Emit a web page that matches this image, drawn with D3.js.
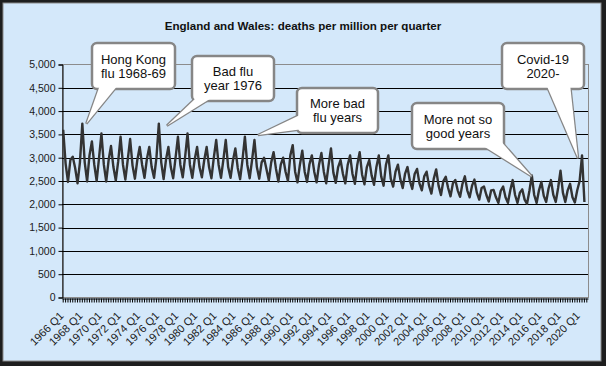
<!DOCTYPE html>
<html>
<head>
<meta charset="utf-8">
<title>England and Wales: deaths per million per quarter</title>
<script src="https://cdn.jsdelivr.net/npm/d3@7"></script>
<style>
	body { margin: 0; background: #fff; }
	svg { display: block; font-family: Arial, "Liberation Sans", sans-serif; }
</style>
</head>
<body>
<div id="chart"></div>
<script>
// categories: one per quarter, 1966 Q1 .. 2020 Q4 (last quarter has no value yet)
var firstYear = 1966, lastYear = 2020;
var quarterNames = ["Q1", "Q2", "Q3", "Q4"];

// deaths per million per quarter, one row per year (Q1..Q4)
var deaths = [
	[3600, 2880, 2480, 2950], // 1966
	[3020, 2780, 2450, 2900],
	[3730, 2900, 2490, 3050],
	[3350, 2850, 2500, 3000],
	[3520, 2850, 2490, 2950], // 1970
	[3250, 2800, 2510, 2920],
	[3450, 2850, 2530, 2960],
	[3400, 2830, 2550, 2950],
	[3230, 2850, 2570, 2970],
	[3230, 2800, 2570, 3000], // 1975
	[3730, 2900, 2540, 2960],
	[3230, 2800, 2560, 3000],
	[3450, 2850, 2580, 3020],
	[3520, 2850, 2570, 2960],
	[3230, 2800, 2580, 2950], // 1980
	[3230, 2800, 2560, 3000],
	[3380, 2850, 2570, 2960],
	[3380, 2800, 2570, 2940],
	[3200, 2780, 2540, 2960],
	[3450, 2850, 2560, 2950], // 1985
	[3380, 2800, 2550, 2900],
	[3000, 2760, 2510, 2900],
	[3120, 2760, 2490, 2850],
	[3000, 2700, 2500, 3050],
	[3270, 2700, 2470, 2850], // 1990
	[3150, 2700, 2480, 2860],
	[3050, 2700, 2470, 2850],
	[3100, 2700, 2450, 2840],
	[3200, 2680, 2460, 2800],
	[2950, 2650, 2450, 2850], // 1995
	[3050, 2650, 2440, 2850],
	[3120, 2640, 2430, 2800],
	[2950, 2620, 2420, 2800],
	[3050, 2600, 2400, 2850],
	[3050, 2550, 2380, 2700], // 2000
	[2850, 2540, 2350, 2660],
	[2800, 2500, 2330, 2650],
	[2760, 2450, 2300, 2600],
	[2700, 2400, 2230, 2550],
	[2750, 2400, 2200, 2500], // 2005
	[2590, 2350, 2170, 2450],
	[2520, 2300, 2160, 2440],
	[2600, 2300, 2150, 2400],
	[2530, 2250, 2100, 2350],
	[2380, 2200, 2060, 2300], // 2010
	[2310, 2150, 2030, 2290],
	[2380, 2150, 2030, 2300],
	[2520, 2200, 2030, 2250],
	[2320, 2100, 2010, 2290],
	[2620, 2200, 2030, 2300], // 2015
	[2480, 2180, 2050, 2340],
	[2520, 2200, 2050, 2350],
	[2720, 2250, 2050, 2300],
	[2440, 2150, 2040, 2300],
	[2500, 3050, 2050]        // 2020
];

var yTicks = [0, 500, 1000, 1500, 2000, 2500, 3000, 3500, 4000, 4500, 5000];
var labelEvery = 8; // a label every second year

var title = "England and Wales: deaths per million per quarter";
var noteTexts = [
	["Hong Kong", "flu 1968-69"],
	["Bad flu", "year 1976"],
	["More bad", "flu years"],
	["More not so", "good years"],
	["Covid-19", "2020-"]
];
var noteTargets = [
	{cat: "1968 Q1", v: 3730},
	{cat: "1976 Q1", v: 3730},
	{cat: "1986 Q1", v: 3400},
	{cat: "2015 Q1", v: 2620},
	{cat: "2020 Q2", v: 3050}
];

var categories = [];
for (var yr = firstYear; yr <= lastYear; yr++) {
	quarterNames.forEach(function(q) { categories.push(yr + " " + q); });
}
var series = [];
deaths.forEach(function(row, i) {
	row.forEach(function(v, j) { series.push({cat: categories[i * 4 + j], v: v}); });
});

var W = 606, H = 366;
var plot = {left: 62, right: 588, top: 64.5, bottom: 297.5};

var svg = d3.select("#chart").append("svg")
	.attr("width", W)
	.attr("height", H);

// frame
svg.append("rect").attr("width", W).attr("height", H).attr("fill", "#1e1e1e");
svg.append("rect")
	.attr("x", 3).attr("y", 3).attr("width", 598).attr("height", 358)
	.attr("fill", "#d4e8fa")
	.attr("stroke", "#8a8a8a").attr("stroke-width", 1);

var x = d3.scaleBand().domain(categories).range([plot.left, plot.right]);
var y = d3.scaleLinear().domain([0, 5000]).range([plot.bottom, plot.top]);

svg.append("text")
	.attr("x", 303).attr("y", 25)
	.attr("text-anchor", "middle")
	.attr("dominant-baseline", "central")
	.style("font-size", "11.6px")
	.style("font-weight", "bold")
	.attr("fill", "#111")
	.text(title);

// plot area border
svg.append("rect")
	.attr("x", plot.left + 0.5).attr("y", plot.top)
	.attr("width", plot.right - plot.left).attr("height", plot.bottom - plot.top)
	.attr("fill", "none").attr("stroke", "#8c8c8c");

// gridlines
svg.append("g").selectAll("line")
	.data(yTicks.filter(function(d) { return d > 0 && d < 5000; }))
	.enter().append("line")
	.attr("x1", plot.left).attr("x2", plot.right)
	.attr("y1", function(d) { return Math.round(y(d)) + 0.5; })
	.attr("y2", function(d) { return Math.round(y(d)) + 0.5; })
	.attr("stroke", "#000").attr("stroke-width", 1);

// y axis
var yAxis = svg.append("g")
	.attr("transform", "translate(" + (plot.left + 0.5) + ",0)")
	.call(d3.axisLeft(y).tickValues(yTicks).tickSize(4).tickFormat(d3.format(",")));
yAxis.selectAll("path, line").attr("stroke", "#000");
yAxis.selectAll("text")
	.attr("x", -7)
	.style("font-size", "10.5px")
	.style("font-family", "Arial, 'Liberation Sans', sans-serif")
	.attr("fill", "#1a1a1a");

// x axis
var xAxis = svg.append("g")
	.attr("transform", "translate(0," + (Math.round(plot.bottom) + 0.5) + ")")
	.call(d3.axisBottom(x).tickSizeInner(4).tickSizeOuter(0)
		.tickFormat(function(d, i) { return i % labelEvery === 0 ? d : ""; }));
xAxis.selectAll("path, line").attr("stroke", "#000");
xAxis.selectAll("text")
	.attr("x", -12).attr("y", 13.5).attr("dy", 0)
	.attr("transform", "rotate(-45)")
	.style("text-anchor", "end")
	.style("font-size", "11px")
	.style("font-family", "Arial, 'Liberation Sans', sans-serif")
	.attr("fill", "#1a1a1a");

// the line
var line = d3.line()
	.x(function(d) { return x(d.cat) + x.bandwidth() / 2; })
	.y(function(d) { return y(d.v); });

svg.append("path")
	.datum(series)
	.attr("d", line)
	.attr("fill", "none")
	.attr("stroke", "#333")
	.attr("stroke-width", 2.4)
	.attr("stroke-linejoin", "round");

// callouts
var boxes = [
	{x: 92, y: 43, w: 83, h: 46, base: [[100, 85], [118, 85]], dx: 4, dy: 0},
	{x: 192, y: 56, w: 82, h: 45, base: [[197, 97], [213, 97]], dx: 8, dy: 2},
	{x: 297, y: 88, w: 81, h: 45, base: [[302, 114], [311, 128]], dx: 3.5, dy: -4},
	{x: 412, y: 103, w: 92, h: 46, base: [[480, 144], [499, 139]], dx: 0, dy: 1},
	{x: 502, y: 43, w: 82, h: 46, base: [[546, 84], [570, 84]], dx: -4, dy: 3}
];

boxes.forEach(function(b, i) {
	var t = noteTargets[i];
	var tip = [x(t.cat) + x.bandwidth() / 2 + b.dx, y(t.v) + b.dy];
	var wedge = [b.base[0], tip, b.base[1]];
	var g = svg.append("g");
	g.append("polygon")
		.attr("points", wedge.join(" "))
		.attr("fill", "#fff").attr("stroke", "#868686").attr("stroke-width", 2.5)
		.attr("stroke-linejoin", "miter");
	g.append("rect")
		.attr("x", b.x).attr("y", b.y).attr("width", b.w).attr("height", b.h)
		.attr("rx", 5)
		.attr("fill", "#fff").attr("stroke", "#868686").attr("stroke-width", 2.5);
	g.append("polygon")
		.attr("points", wedge.join(" "))
		.attr("fill", "#fff");
	g.selectAll("text")
		.data(noteTexts[i])
		.enter().append("text")
		.attr("x", b.x + b.w / 2)
		.attr("y", function(d, k) { return b.y + b.h / 2 - 7 + k * 14; })
		.attr("text-anchor", "middle")
		.attr("dominant-baseline", "central")
		.style("font-size", "13px")
		.attr("fill", "#111")
		.text(function(d) { return d; });
});
</script>
</body>
</html>
